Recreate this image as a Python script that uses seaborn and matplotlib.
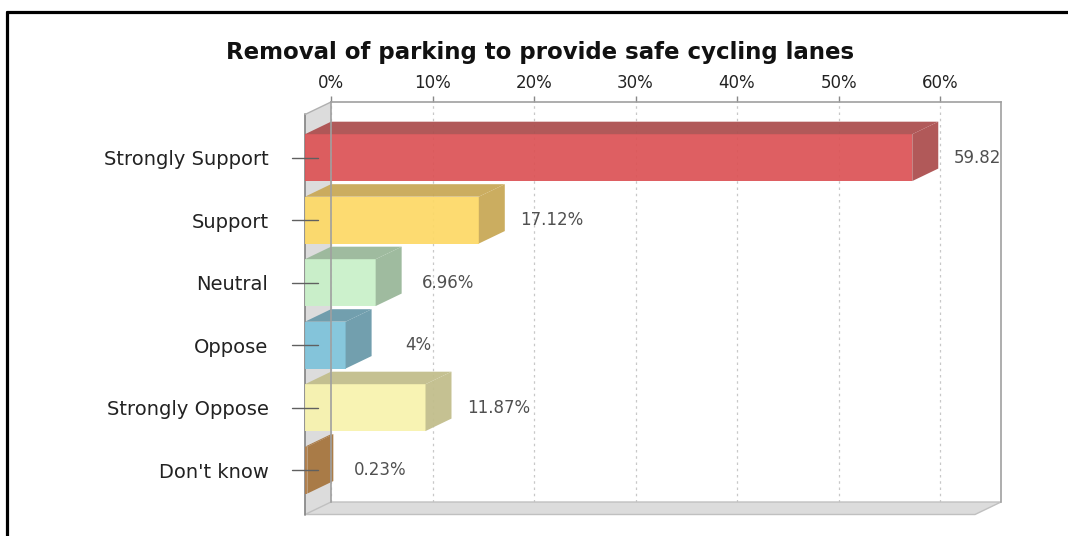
import numpy as np
import matplotlib
matplotlib.use('Agg')
import matplotlib.pyplot as plt
from matplotlib.patches import Polygon
from matplotlib.lines import Line2D
import seaborn as sns

# ---- data ----
categories = ['Strongly Support', 'Support', 'Neutral', 'Oppose', 'Strongly Oppose', "Don't know"]
values = [59.82, 17.12, 6.96, 4, 11.87, 0.23]
front_colors = ['#DC5356', '#FDD966', '#C8F0C8', '#7EC3DA', '#F8F3AE', '#B07C48']
side_colors = ['#AD5050', '#C9A957', '#9AB89A', '#6A9AAA', '#C2BE8C', '#A7763F']
x_ticks = [0, 10, 20, 30, 40, 50, 60]
x_tick_labels = ['0%', '10%', '20%', '30%', '40%', '50%', '60%']
title = 'Removal of parking to provide safe cycling lanes'

# fake 3d depth (data units of the back plane)
DEPTH_X = 2.56
DEPTH_Y = 0.2
XMAX = 66.0
YLIM = (5.71, -0.69)

sns.set_style('white')
fig = plt.figure(figsize=(10.68, 5.36), dpi=100)
ax = fig.add_axes([331 / 1068, 34 / 536, 670 / 1068, 400 / 536])

sns.barplot(x=values, y=categories, hue=categories, palette=front_colors,
            orient='h', width=0.75, legend=False, ax=ax, saturation=1, zorder=3)

bars = [b for c in ax.containers for b in c]
ax.set_xlim(0, XMAX)
ax.set_ylim(*YLIM)

# left wall and floor
wall = Polygon([(0, YLIM[1]), (0, YLIM[0]), (-DEPTH_X, YLIM[0] + DEPTH_Y),
                (-DEPTH_X, YLIM[1] + DEPTH_Y)], closed=True, facecolor='#DCDCDC',
               edgecolor='none', clip_on=False, zorder=1)
floor = Polygon([(0, YLIM[0]), (XMAX, YLIM[0]), (XMAX - DEPTH_X, YLIM[0] + DEPTH_Y),
                 (-DEPTH_X, YLIM[0] + DEPTH_Y)], closed=True, facecolor='#DCDCDC',
                edgecolor='#C0C0C0', lw=1, clip_on=False, zorder=1)
ax.add_patch(wall)
ax.add_patch(floor)
ax.plot([-DEPTH_X, -DEPTH_X], [YLIM[1] + DEPTH_Y, YLIM[0] + DEPTH_Y], color='#8A8A8A',
        lw=1.3, clip_on=False, zorder=2)
ax.plot([-DEPTH_X, 0], [YLIM[1] + DEPTH_Y, YLIM[1]], color='#B0B0B0', lw=1,
        clip_on=False, zorder=2)

# bars: top face, side face, then move the front face forward
for bar, v, fc, sc in zip(bars, values, front_colors, side_colors):
    x0, y0, w, h = bar.get_x(), bar.get_y(), bar.get_width(), bar.get_height()
    top = Polygon([(x0, y0), (x0 + w, y0), (x0 + w - DEPTH_X, y0 + DEPTH_Y),
                   (x0 - DEPTH_X, y0 + DEPTH_Y)], closed=True, facecolor=sc,
                  edgecolor='none', alpha=0.95, clip_on=False, zorder=3)
    side = Polygon([(x0 + w, y0), (x0 + w, y0 + h), (x0 + w - DEPTH_X, y0 + h + DEPTH_Y),
                    (x0 + w - DEPTH_X, y0 + DEPTH_Y)], closed=True, facecolor=sc,
                   edgecolor='none', alpha=0.95, clip_on=False, zorder=3)
    ax.add_patch(top)
    ax.add_patch(side)
    bar.set_x(x0 - DEPTH_X)
    bar.set_y(y0 + DEPTH_Y)
    bar.set_alpha(0.93)
    bar.set_edgecolor('none')
    bar.set_clip_on(False)
    ax.text(v + 4.6, y0 + h / 2 + DEPTH_Y, f'{v:g}%', ha='center', va='center',
            fontsize=12, color='#505050', clip_on=True, zorder=5)

# category ticks crossing the wall edge
ypos = np.arange(len(categories)) + DEPTH_Y
for y in ypos:
    ax.plot([-DEPTH_X - 1.3, -DEPTH_X + 1.3], [y, y], color='#606060', lw=1,
            clip_on=False, zorder=6)
ax.set_yticks(ypos, categories)
ax.tick_params(axis='y', length=0, pad=45, labelsize=14, labelcolor='#222222')
ax.set_ylabel('')
ax.set_xlabel('')

# top axis
ax.xaxis.tick_top()
ax.set_xticks(x_ticks, x_tick_labels)
ax.tick_params(axis='x', length=4, width=1, color='#888888', pad=3,
               labelsize=12, labelcolor='#222222')
ax.grid(axis='x', color='#C8C8C8', linestyle=(0, (2, 3)), lw=0.9)
ax.set_axisbelow(True)

for s in ['top', 'right', 'left']:
    ax.spines[s].set_color('#A0A0A0')
    ax.spines[s].set_linewidth(1.2)
ax.spines['bottom'].set_visible(False)
ax.spines['left'].set_zorder(4)

fig.text(540 / 1068, 1 - 53 / 536, title, ha='center', va='center',
         fontsize=16.5, fontweight='bold', color='#111111')

# outer frame (top and left lines only)
fig.add_artist(Line2D([7 / 1068, 1], [1 - 12 / 536, 1 - 12 / 536], color='black', lw=2.3))
fig.add_artist(Line2D([7 / 1068, 7 / 1068], [0, 1 - 12 / 536], color='black', lw=2.3))

fig.savefig('out.png', dpi=100)
